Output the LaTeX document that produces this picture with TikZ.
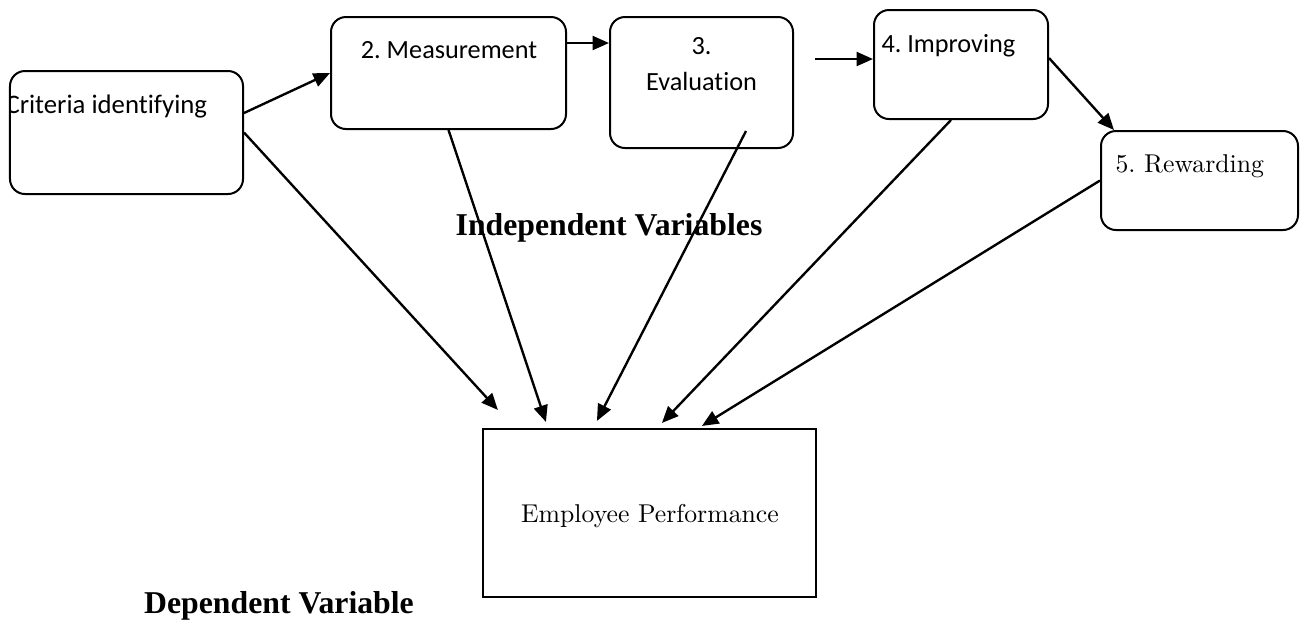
\documentclass[tikz,border=0pt]{standalone}
\usepackage{fontspec}
\newfontfamily\boxfont[Ligatures=NoCommon]{Carlito}
\newfontfamily\varfont{Liberation Serif}
\usetikzlibrary{arrows.meta}

\begin{document}
\frenchspacing
\begin{tikzpicture}[x=0.4pt,y=-0.4pt,
    stage/.style={draw, line width=0.8pt, rounded corners=6pt, inner sep=0pt},
    link/.style={line width=0.95pt, -{Triangle[length=6.6pt,width=5.6pt]}},
    boxtext/.style={inner sep=0pt, font=\boxfont\fontsize{10.5}{14.4}\selectfont},
    vartext/.style={inner sep=0pt, font=\varfont\bfseries\fontsize{12.7}{15}\selectfont}]
  \useasboundingbox (0,0) rectangle (1300,623);

  % stages
  \node[stage, minimum width=93.2pt, minimum height=49.2pt] (crit) at (126.5,132.5) {};
  \node[stage, minimum width=94pt, minimum height=44.8pt] (meas) at (448.5,73) {};
  \node[stage, minimum width=73.2pt, minimum height=52.4pt] (eval) at (701.5,82.5) {};
  \node[stage, minimum width=69.6pt, minimum height=43.6pt] (impr) at (961,64.5) {};
  \node[stage, minimum width=78.8pt, minimum height=39.6pt] (rew) at (1199.5,180.5) {};
  \node[draw, line width=0.85pt, minimum width=133.2pt, minimum height=67.2pt] (emp) at (649.5,513) {};

  \begin{scope}
    \clip ([xshift=0.8pt]crit.north west) rectangle (crit.south east);
    \node[boxtext, anchor=base west, font=\boxfont\fontsize{10.7}{14.4}\selectfont] (crittxt) at (5,113) {Criteria identifying};
  \end{scope}
  \node[boxtext, anchor=base] (meastxt) at (449,58) {2. Measurement};
  \node[boxtext, anchor=base, align=center] (evaltxt) at (701.5,90) {3.\\Evaluation};
  \node[boxtext, anchor=base west] (imprtxt) at (881,52) {4. Improving};
  \node[inner sep=0pt, anchor=base west, font=\fontsize{10.3}{12}\selectfont] (rewtxt) at (1115,172) {5. Rewarding};
  \node[inner sep=0pt, anchor=base, font=\fontsize{10.3}{12}\selectfont] (emptxt) at (650,522) {Employee Performance};

  \node[vartext, anchor=base] (indep) at (609,235) {Independent Variables};
  \node[vartext, anchor=base] (dep) at (279,613) {Dependent Variable};

  % the chain of stages
  \draw[link] ([yshift=7.8pt]crit.east) -- (meas.west);
  \draw[link] ([yshift=12pt]meas.east) coordinate (me) -- (me -| eval.west);
  \coordinate (gap) at (815,59);
  \draw[link] (gap) -- (gap -| impr.west);
  \draw[link] ([yshift=2.6pt]impr.east) -- ([xshift=5.6pt]rew.north west);

  % every stage feeds the performance box
  \draw[link] (crit.east) -- ([xshift=6.4pt,yshift=7.2pt]emp.north west);
  \draw[link] (meas.south) -- ([xshift=25.6pt,yshift=2.4pt]emp.north west);
  \draw[link] ([xshift=17.8pt,yshift=7.2pt]eval.south) -- ([xshift=46pt,yshift=2.8pt]emp.north west);
  \draw[link] ([xshift=-4pt]impr.south) -- ([xshift=72pt,yshift=2pt]emp.north west);
  \draw[link] (rew.west) -- ([xshift=88pt,yshift=0.8pt]emp.north west);
\end{tikzpicture}
\end{document}
